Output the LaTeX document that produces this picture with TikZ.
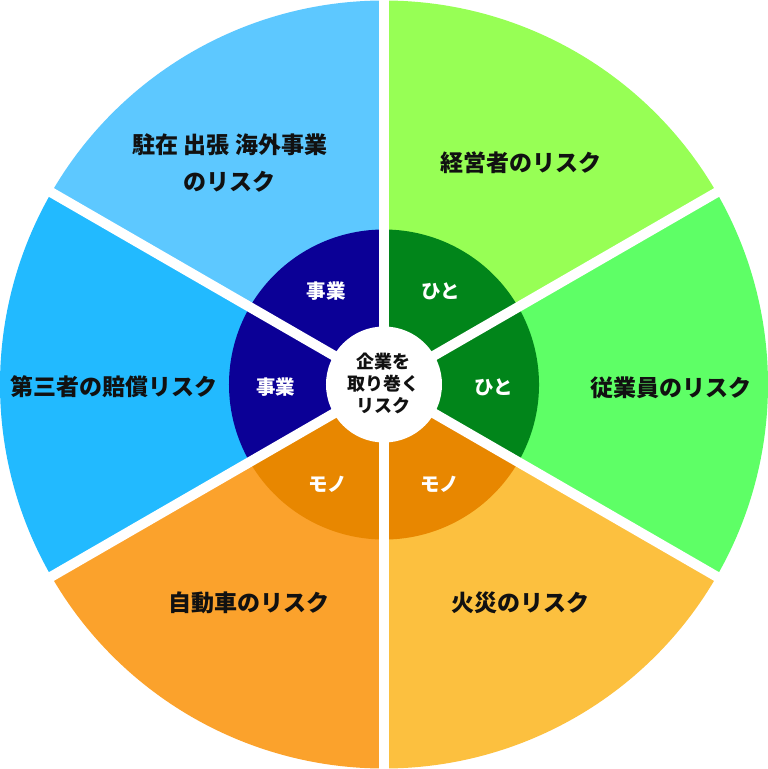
\documentclass[tikz,border=0pt]{standalone}
\usepackage{fontspec}
\usepackage{xcolor}
\newfontfamily\jpfont{Noto Sans CJK JP}
\definecolor{hitoouter}{HTML}{97FF55}
\definecolor{hitoright}{HTML}{5EFF66}
\definecolor{hitoinner}{HTML}{01851A}
\definecolor{monoright}{HTML}{FCC03F}
\definecolor{monoleft}{HTML}{FBA22C}
\definecolor{monoinner}{HTML}{E88700}
\definecolor{jigyoleft}{HTML}{22BAFF}
\definecolor{jigyotop}{HTML}{5DC8FF}
\definecolor{jigyoinner}{HTML}{0B0096}
\definecolor{labeltext}{HTML}{111111}

\begin{document}
\begin{tikzpicture}[
  x=1pt, y=1pt,
  risk/.style={font=\jpfont\bfseries\fontsize{23}{37}\selectfont, text=labeltext, align=center, inner sep=0pt},
  kind/.style={font=\jpfont\bfseries\fontsize{19.5}{20}\selectfont, text=white, inner sep=0pt},
  core/.style={font=\jpfont\bfseries\fontsize{18}{22}\selectfont, text=labeltext, align=center, inner sep=0pt},
  gapline/.style={draw=white, line width=10pt}
]
\useasboundingbox (-384,-384.5) rectangle (384,384.5);

% outer sectors
\fill[hitoouter]  (0,0) -- (30:384)  arc (30:90:384)   -- cycle;
\fill[hitoright]  (0,0) -- (-30:384) arc (-30:30:384)  -- cycle;
\fill[monoright]  (0,0) -- (-90:384) arc (-90:-30:384) -- cycle;
\fill[monoleft]   (0,0) -- (210:384) arc (210:270:384) -- cycle;
\fill[jigyoleft]  (0,0) -- (150:384) arc (150:210:384) -- cycle;
\fill[jigyotop]   (0,0) -- (90:384)  arc (90:150:384)  -- cycle;

% inner ring
\fill[hitoinner]  (0,0) -- (-30:155) arc (-30:90:155)  -- cycle;
\fill[monoinner]  (0,0) -- (210:155) arc (210:330:155) -- cycle;
\fill[jigyoinner] (0,0) -- (90:155)  arc (90:210:155)  -- cycle;

% white gaps
\foreach \a in {30,90,150,210,270,330}
  \draw[gapline] (0,0) -- (\a:400);
\fill[white] (0,0) circle (58);

\node[risk] (abroad)   at (-154,221.5) {駐在 出張 海外事業\\のリスク};
\node[risk] (manager)  at (137,221.5)  {経営者のリスク};
\node[risk] (staff)    at (287,-3.5)   {従業員のリスク};
\node[risk] (fire)     at (137,-218.5) {火災のリスク};
\node[risk] (car)      at (-135,-218.5) {自動車のリスク};
\node[risk] (thirdpty) at (-270,-2.5)  {第三者の賠償リスク};

\node[kind] (biztop)   at (-57.5,93.5) {事業};
\node[kind] (hitotop)  at (57,93.5)    {ひと};
\node[kind] (hitoside) at (110,-2.5)   {ひと};
\node[kind] (monor)    at (56,-99.5)   {モノ};
\node[kind] (monol)    at (-56,-99.5)  {モノ};
\node[kind] (bizside)  at (-108,-2.5)  {事業};

\node[core] (center) at (0,1.5) {企業を\\取り巻く\\リスク};
\end{tikzpicture}
\end{document}
